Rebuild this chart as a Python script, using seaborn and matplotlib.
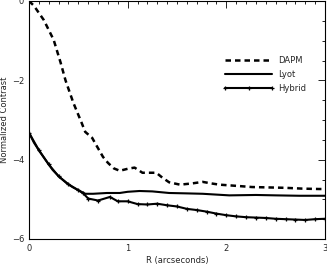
import numpy as np
import pandas as pd
import matplotlib
matplotlib.use("Agg")
import matplotlib.pyplot as plt
import seaborn as sns
from matplotlib.ticker import MultipleLocator

# valori
dapm_x = [0, 0.05, 0.15, 0.25, 0.32, 0.37, 0.45, 0.53, 0.57, 0.64, 0.69, 0.75, 0.80,
          0.86, 0.92, 1.0, 1.07, 1.15, 1.29, 1.35, 1.42, 1.53, 1.65, 1.76, 1.85, 1.93,
          2.1, 2.26, 2.43, 2.6, 2.77, 2.94, 3.0]
dapm_y = [0, -0.12, -0.48, -0.98, -1.55, -2.0, -2.57, -3.05, -3.3, -3.45, -3.67, -3.93, -4.08,
          -4.22, -4.28, -4.23, -4.20, -4.33, -4.33, -4.45, -4.57, -4.63, -4.60, -4.56, -4.60, -4.63,
          -4.66, -4.69, -4.70, -4.71, -4.73, -4.74, -4.74]

lyot_x = [0, 0.05, 0.11, 0.18, 0.24, 0.31, 0.38, 0.44, 0.50, 0.57, 0.65, 0.79, 0.92, 1.0,
          1.12, 1.25, 1.42, 1.6, 1.76, 2.03, 2.3, 2.5, 2.74, 3.0]
lyot_y = [-3.32, -3.57, -3.8, -4.05, -4.26, -4.44, -4.59, -4.69, -4.77, -4.86, -4.86, -4.84,
          -4.84, -4.81, -4.79, -4.80, -4.84, -4.85, -4.86, -4.90, -4.89, -4.90, -4.91, -4.91]

hyb_x = [0, 0.1, 0.2, 0.3, 0.4, 0.5, 0.55, 0.6, 0.7, 0.82, 0.9, 1.0, 1.1, 1.2, 1.3, 1.4,
         1.5, 1.6, 1.7, 1.8, 1.9, 2.0, 2.1, 2.2, 2.3, 2.4, 2.5, 2.6, 2.7, 2.8, 2.9, 3.0]
hyb_y = [-3.32, -3.76, -4.12, -4.42, -4.62, -4.77, -4.85, -4.98, -5.03, -4.94, -5.05, -5.05,
         -5.12, -5.13, -5.11, -5.15, -5.18, -5.24, -5.27, -5.31, -5.36, -5.40, -5.43, -5.45,
         -5.46, -5.47, -5.49, -5.50, -5.51, -5.52, -5.50, -5.49]

sns.set_style("white")
plt.rcParams['font.family'] = ['DejaVu Sans']

fig = plt.figure(figsize=(3.27, 2.66), dpi=100)
ax = fig.add_axes([29/327, 1 - 239/266, 296/327, 238/266])

sns.lineplot(x=dapm_x, y=dapm_y, ax=ax, color='black', linewidth=1.8,
             linestyle=(0, (2.2, 1.6)), label='DAPM')
sns.lineplot(x=lyot_x, y=lyot_y, ax=ax, color='black', linewidth=1.5, label='Lyot')
sns.lineplot(x=hyb_x, y=hyb_y, ax=ax, color='black', linewidth=1.5, marker='+',
             markersize=3, markeredgewidth=0.9, markeredgecolor='black', label='Hybrid')

ax.set_xlim(0, 3)
ax.set_ylim(-6, 0)
ax.xaxis.set_major_locator(MultipleLocator(1))
ax.xaxis.set_minor_locator(MultipleLocator(0.1))
ax.yaxis.set_major_locator(MultipleLocator(2))
ax.yaxis.set_minor_locator(MultipleLocator(0.5))
ax.tick_params(which='both', direction='in', top=True, right=True, labelsize=6,
               color='black', width=0.6)
ax.tick_params(which='major', length=5)
ax.tick_params(which='minor', length=2.5)
for s in ax.spines.values():
    s.set_color('black')
    s.set_linewidth(0.8)

ax.set_xlabel('R (arcseconds)', fontsize=6, labelpad=2)
ax.set_ylabel('Normalized Contrast', fontsize=6, labelpad=2)

ax.legend(loc='upper left', bbox_to_anchor=(0.63, 0.80), frameon=False, fontsize=6,
          numpoints=3, handlelength=6.2, handletextpad=0.4, labelspacing=0.6)

fig.savefig('out.png', dpi=100)
